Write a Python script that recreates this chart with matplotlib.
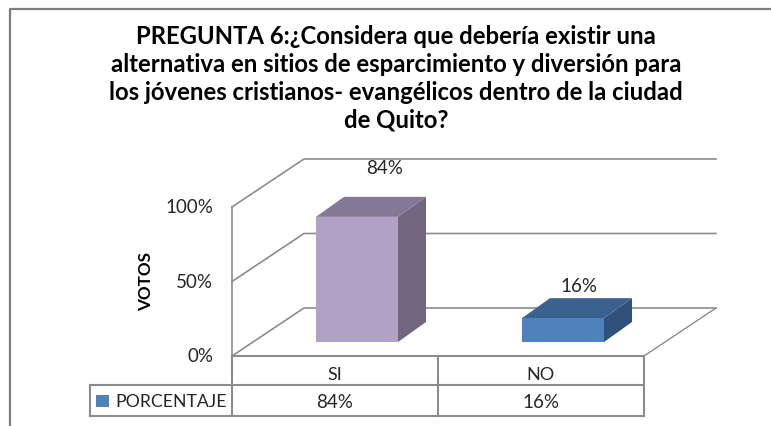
import matplotlib
matplotlib.use('Agg')
import matplotlib.pyplot as plt
from matplotlib.patches import Polygon, Rectangle

# Data
categories = ['SI', 'NO']
values = [84, 16]
value_labels = ['84%', '16%']
y_ticks = [0, 50, 100]
y_tick_labels = ['0%', '50%', '100%']
series_name = 'PORCENTAJE'
y_title = 'VOTOS'
title_lines = [
    'PREGUNTA 6:¿Considera que debería existir una',
    'alternativa en sitios de esparcimiento y diversión para',
    'los jóvenes cristianos- evangélicos dentro de la ciudad',
    'de Quito?',
]
bar_colors = ['#b2a1c7', '#4f81bd']
top_colors = ['#857896', '#3b618e']
side_colors = ['#72667f', '#30527a']

GRID = '#8c8c8c'
TEXT = '#262626'
FONT = 'Lato'

# Layout of the pseudo-3D box, in pixels
W, H = 771, 427
FLOOR_Y = 357
PX_PER_PCT = 1.49
LEFT, RIGHT = 232, 644
DX, DY = 72, 48
COL_W = (RIGHT - LEFT) / len(categories)
BAR_W = 82
BAR_OFFSET_X = 84
BAR_INSET_Y = 14
BAR_DX, BAR_DY = 28, 20
# where each data label sits relative to its bar's front top left corner
LABEL_DX = [69, 57]
LABEL_DY = [-49, -33]


def val_y(v, base=FLOOR_Y):
    return base - v * PX_PER_PCT


fig = plt.figure(figsize=(W / 100, H / 100), dpi=100)
ax = fig.add_axes([0, 0, 1, 1])
ax.set_xlim(0, W)
ax.set_ylim(H, 0)
ax.axis('off')

# Outer frame (left and top only are in the picture)
ax.plot([10, 10, W], [H, 10, 10], color='#7f7f7f', lw=1.6, solid_capstyle='butt')

# Title
for i, line in enumerate(title_lines):
    ax.text(396, 36 + i * 28, line, fontsize=17.2, fontweight='bold', family=FONT,
            ha='center', va='center', color='black')

# Floor, wall and gridlines
for t, label in zip(y_ticks, y_tick_labels):
    y = val_y(t)
    ax.plot([LEFT, LEFT + DX, W - 55], [y, y - DY, y - DY], color=GRID, lw=1.2)
    ax.text(213, y, label, fontsize=13.5, family=FONT, ha='right', va='center', color=TEXT)
ax.plot([LEFT, LEFT], [val_y(0), val_y(100)], color=GRID, lw=1.2)
ax.plot([RIGHT, W - 55], [FLOOR_Y, FLOOR_Y - DY], color=GRID, lw=1.0)

ax.text(146, 282, y_title, fontsize=12.3, fontweight='bold', family=FONT, rotation=90,
        ha='center', va='center', color='black')

# Bars
for i, (cat, v, lab) in enumerate(zip(categories, values, value_labels)):
    x0 = LEFT + COL_W * i + BAR_OFFSET_X
    x1 = x0 + BAR_W
    base = FLOOR_Y - BAR_INSET_Y
    top = val_y(v, base)
    ax.add_patch(Polygon([(x1, top), (x1 + BAR_DX, top - BAR_DY),
                          (x1 + BAR_DX, base - BAR_DY), (x1, base)],
                         facecolor=side_colors[i], edgecolor='none', zorder=3))
    ax.add_patch(Polygon([(x0, top), (x0 + BAR_DX, top - BAR_DY),
                          (x1 + BAR_DX, top - BAR_DY), (x1, top)],
                         facecolor=top_colors[i], edgecolor='none', zorder=3))
    ax.add_patch(Rectangle((x0, top), BAR_W, base - top,
                           facecolor=bar_colors[i], edgecolor='none', zorder=3))
    ax.text(x0 + LABEL_DX[i], top + LABEL_DY[i], lab, fontsize=13.5, family=FONT,
            ha='center', va='center', color=TEXT, zorder=4)

# Data table under the chart
ROW1, ROW2, LEG_X = 386, 417, 90
splits = [LEFT + COL_W * i for i in range(len(categories) + 1)]
ax.plot([LEFT, RIGHT], [FLOOR_Y, FLOOR_Y], color=GRID, lw=1.5)
ax.plot([LEG_X, RIGHT], [ROW1, ROW1], color=GRID, lw=1.5)
ax.plot([LEG_X, RIGHT], [ROW2, ROW2], color=GRID, lw=1.5)
ax.plot([LEG_X, LEG_X], [ROW1, ROW2], color=GRID, lw=1.5)
for x in splits:
    ax.plot([x, x], [FLOOR_Y, ROW2], color=GRID, lw=1.5)
for i, (cat, lab) in enumerate(zip(categories, value_labels)):
    xc = splits[i] + COL_W / 2
    ax.text(xc, 375, cat, fontsize=13, family=FONT, ha='center', va='center', color=TEXT)
    ax.text(xc, 403, lab, fontsize=13.5, family=FONT, ha='center', va='center', color=TEXT)
ax.add_patch(Rectangle((96, 396), 13, 12, facecolor=bar_colors[1], edgecolor='none'))
ax.text(115, 402, series_name, fontsize=12.7, family=FONT, ha='left', va='center', color=TEXT)

fig.savefig('out.png', dpi=100)
